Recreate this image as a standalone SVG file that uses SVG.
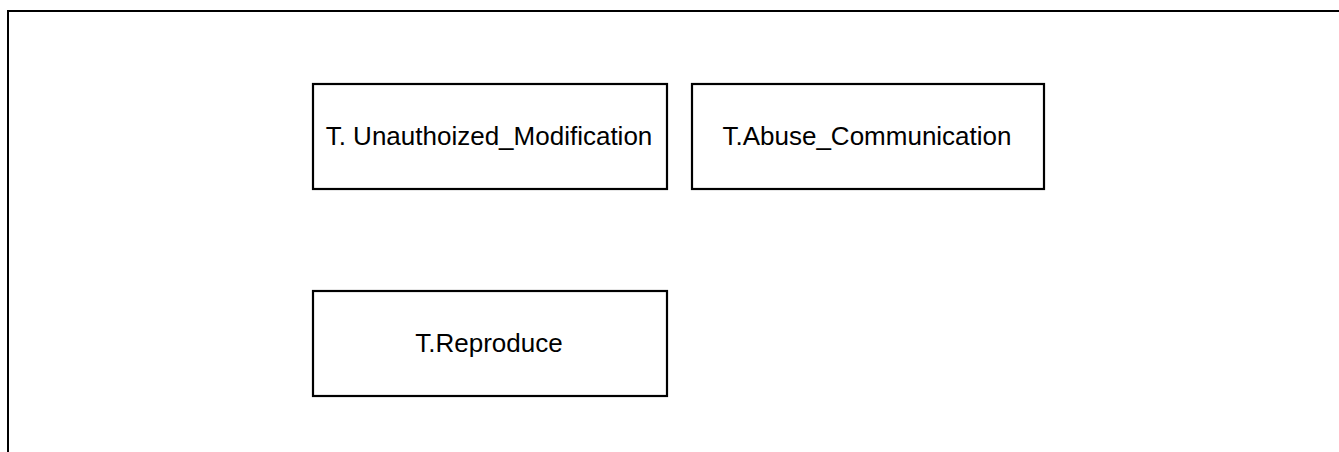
<svg xmlns="http://www.w3.org/2000/svg" width="1339" height="452" viewBox="0 0 1339 452">
  <style>
    .frame { fill: none; stroke: #000; stroke-width: 2; }
    .box { fill: #fff; stroke: #000; stroke-width: 2.2; }
    .label { font-family: "Liberation Sans", Arial, sans-serif; font-size: 26px; fill: #000; text-anchor: middle; }
  </style>
  <rect width="1339" height="452" fill="#fff"/>
  <!-- outer frame, running past the right and bottom edges -->
  <path class="frame" d="M8,460 L8,11 L1345,11"/>
  <g id="connectors"></g>
  <g id="node-unauthorized-modification">
    <rect class="box" x="313" y="84" width="354" height="105"/>
    <text class="label" x="489" y="145">T. Unauthoized_Modification</text>
  </g>
  <g id="node-abuse-communication">
    <rect class="box" x="692" y="84" width="352" height="105"/>
    <text class="label" x="867" y="145">T.Abuse_Communication</text>
  </g>
  <g id="node-reproduce">
    <rect class="box" x="313" y="291" width="354" height="105"/>
    <text class="label" x="489" y="352">T.Reproduce</text>
  </g>
</svg>
